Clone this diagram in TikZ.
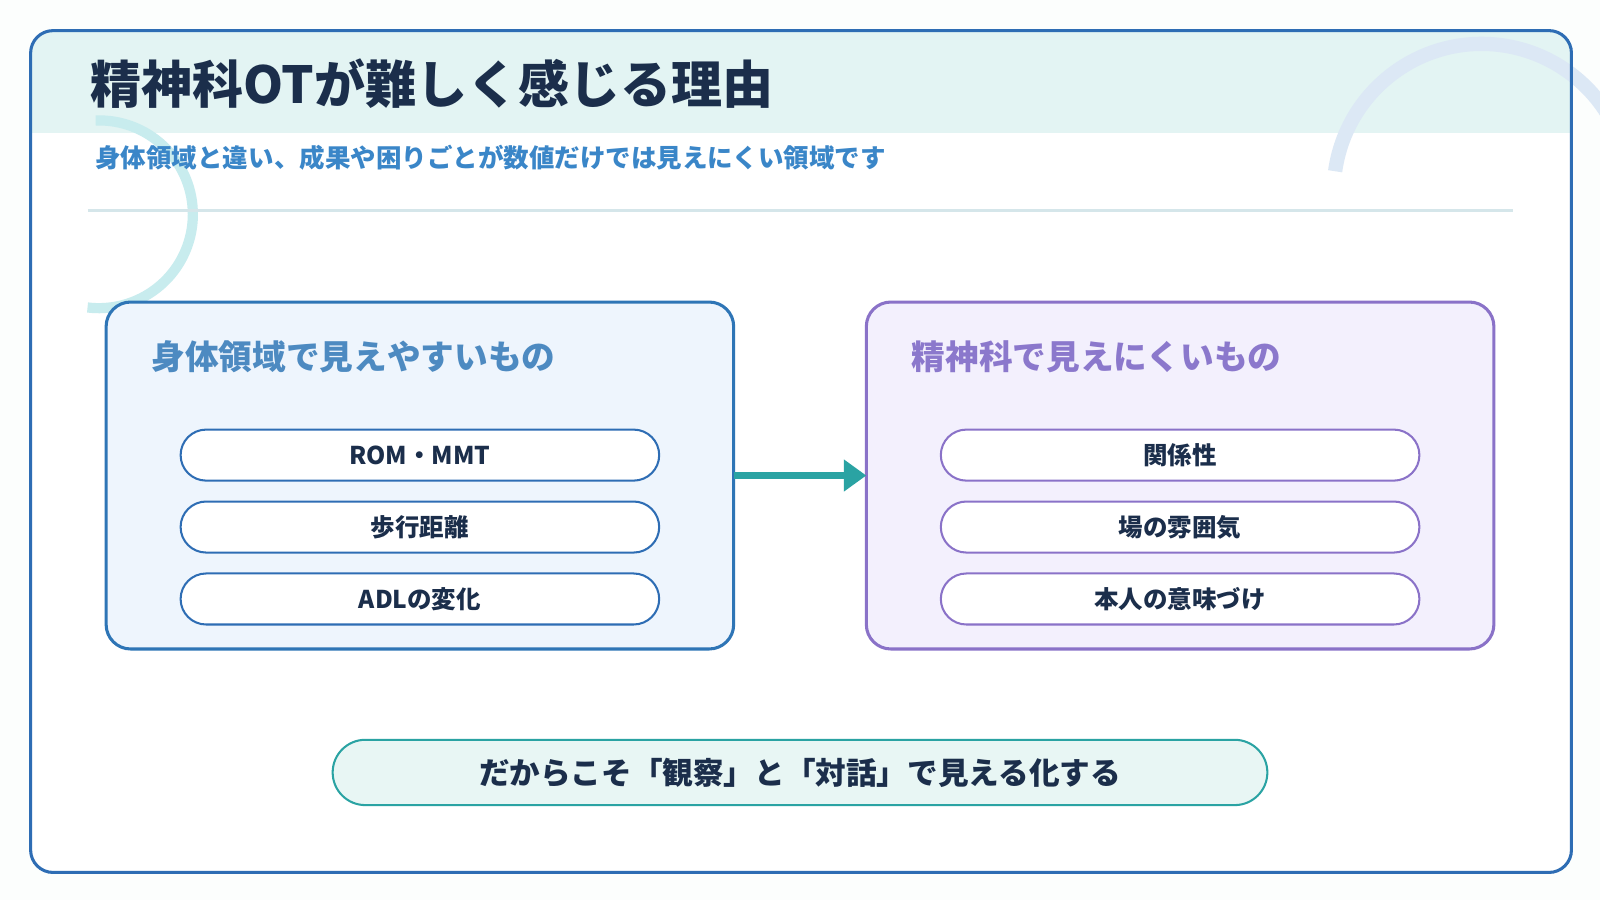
\documentclass[tikz,border=0pt]{standalone}
\usepackage{fontspec}
\setmainfont{Noto Sans CJK JP}
\usetikzlibrary{arrows.meta}
\definecolor{navy}{HTML}{1B2E4B}
\definecolor{frameblue}{HTML}{2E6DB4}
\definecolor{subblue}{HTML}{3A86C8}
\definecolor{band}{HTML}{E3F4F3}
\definecolor{lboxfill}{HTML}{EEF5FD}
\definecolor{lboxline}{HTML}{2E75B6}
\definecolor{rboxfill}{HTML}{F3F0FD}
\definecolor{rboxline}{HTML}{8A72C8}
\definecolor{rtitle}{HTML}{8B78CC}
\definecolor{teal}{HTML}{2AA3A3}
\definecolor{bfill}{HTML}{E8F6F4}
\definecolor{arcteal}{HTML}{C8ECEE}
\definecolor{arcblue}{HTML}{DCE8F5}
\tikzset{
  bigbox/.style={rounded corners=24pt,line width=3pt,inner sep=0pt},
  pill/.style={draw=#1,line width=2pt,fill=white,rounded corners=25pt,minimum width=469pt,minimum height=50pt,font=\fontsize{24}{27}\selectfont\bfseries,text=navy},
}
\begin{document}
\begin{tikzpicture}[x=1pt,y=-1pt]
\useasboundingbox (0,0) rectangle (1568,882);
\fill[white!60!band!30!white] (0,0) rectangle (1568,882);
\fill[white,rounded corners=22pt] (30,30) rectangle (1540,855);
\begin{scope}
\clip[rounded corners=22pt] (30,30) rectangle (1540,855);
\fill[band] (30,30) rectangle (1540,130);
\end{scope}
\draw[line width=10pt,arcteal] (97,210) ++(-92:92) arc[start angle=-92,end angle=97,radius=92];
\draw[line width=14pt,arcblue] (1452,188) ++(188:145) arc[start angle=188,end angle=335,radius=145];
\draw[frameblue,line width=3pt,rounded corners=22pt] (30,30) rectangle (1540,855);
\node[anchor=west,text=navy,font=\fontsize{50}{54}\selectfont\bfseries] (title) at (85,82) {精神科OTが難しく感じる理由};
\node[anchor=west,text=subblue,font=\fontsize{25}{28}\selectfont\bfseries] (sub) at (90,155) {身体領域と違い、成果や困りごとが数値だけでは見えにくい領域です};
\draw[line width=3pt,color={rgb,255:red,213;green,230;blue,234}] (86,206) -- (1483,206);
\draw[bigbox,draw=lboxline,fill=lboxfill] (104,296) rectangle (719,636);
\node[anchor=west,text=lboxline!85!white,font=\fontsize{33}{37}\selectfont\bfseries] (lt) at (145,350) {身体領域で見えやすいもの};
\node[pill=frameblue] (l1) at (411.5,446) {ROM・MMT};
\node[pill=frameblue] (l2) at (411.5,516.5) {歩行距離};
\node[pill=frameblue] (l3) at (411.5,587) {ADLの変化};
\draw[bigbox,draw=rboxline,fill=rboxfill] (849,296) rectangle (1464,636);
\node[anchor=west,text=rtitle,font=\fontsize{33}{37}\selectfont\bfseries] (rt) at (890,350) {精神科で見えにくいもの};
\node[pill=rboxline] (r1) at (1156.5,446) {関係性};
\node[pill=rboxline] (r2) at (1156.5,516.5) {場の雰囲気};
\node[pill=rboxline] (r3) at (1156.5,587) {本人の意味づけ};
\coordinate (as) at (719,466);
\coordinate (ae) at (849,466);
\draw[teal,line width=6pt,-{Triangle[length=22pt,width=30pt]}] (as) -- (ae);
\node[draw=teal,line width=2pt,fill=bfill,rounded corners=32pt,minimum width=916pt,minimum height=64pt,text=navy,font=\fontsize{30}{34}\selectfont\bfseries] (bottom) at (784,757) {だからこそ「観察」と「対話」で見える化する};
\end{tikzpicture}
\end{document}
